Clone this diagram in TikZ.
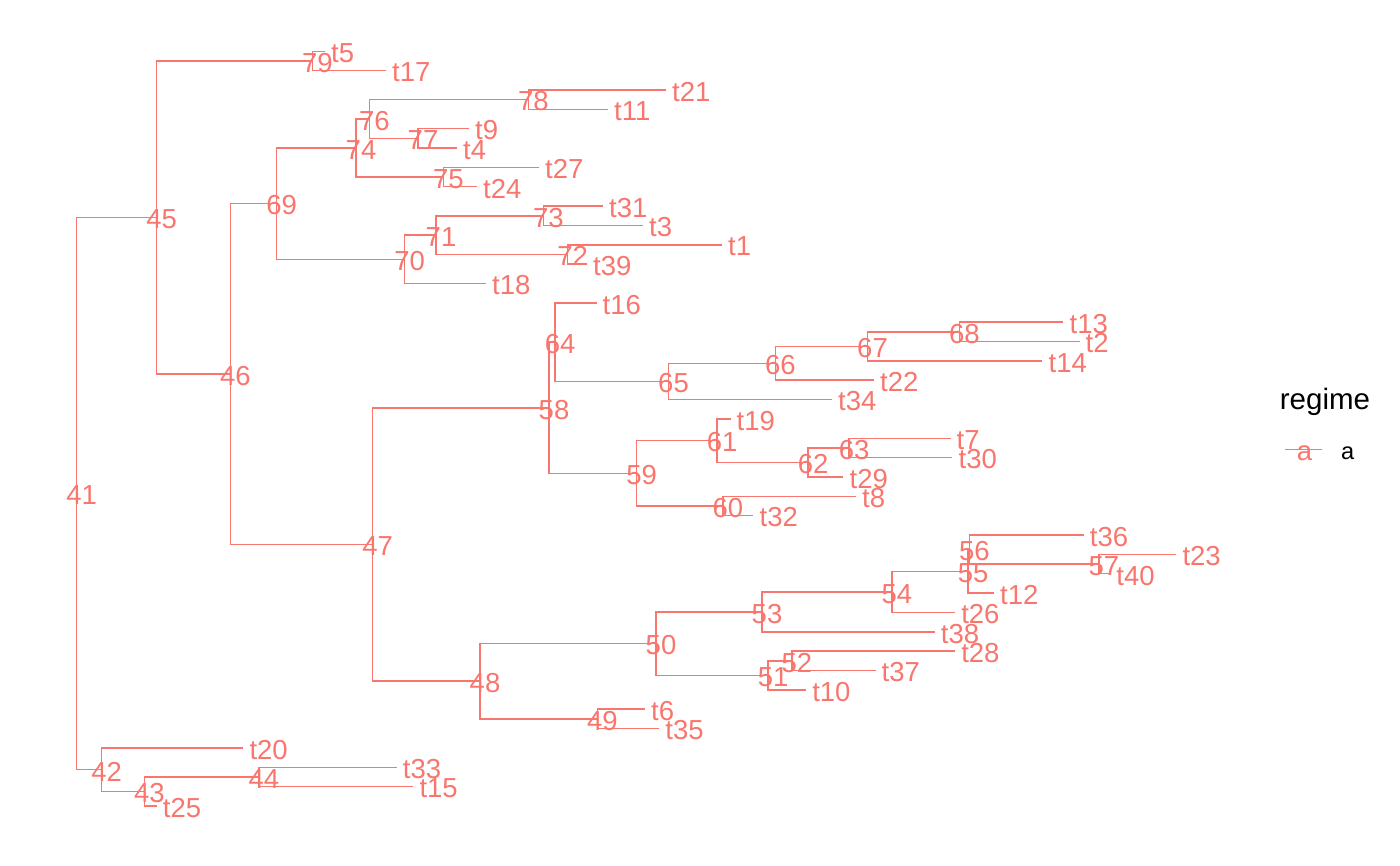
\documentclass[tikz,border=0pt]{standalone}
\usepackage{fontspec}
\setmainfont{Liberation Sans}
\usepackage{tikz}
\usetikzlibrary{positioning,calc}
\definecolor{regimeA}{HTML}{F8766D}
\newcommand\labfont{\fontsize{27.5}{33}\selectfont}
\newcommand\legtitlefont{\fontsize{29.5}{35}\selectfont}
\newcommand\legkeyfont{\fontsize{23.6}{28}\selectfont}
\tikzset{
  branch/.style={draw=regimeA, line width=1.5pt},
  tiplab/.style={anchor=west, inner sep=0pt, xshift=6pt, yshift=-1.8pt, text=regimeA, font=\labfont},
  nodelab/.style={inner sep=0pt, xshift=5pt, yshift=-1.8pt, text=regimeA, font=\labfont},
}

\begin{document}
\begin{tikzpicture}[
x=1pt,
y=-19.35pt
]
\useasboundingbox (0,-2.651) rectangle (1400,42.103);

% tips, top to bottom
\foreach \name/\x [count=\i from 0] in {t5/325, t17/386, t21/666, t11/608, t9/469,
    t4/457, t27/539, t24/477, t31/603, t3/643, t1/722, t39/587, t18/486, t16/596.5,
    t13/1063.4, t2/1079.5, t14/1042.4, t22/874, t34/831.9, t19/730.5, t7/950.5,
    t30/952.4, t29/843.4, t8/856, t32/753.4, t36/1083.7, t23/1176.3, t40/1110.2,
    t12/993.9, t26/955.1, t38/934.7, t28/955.1, t37/875.5, t10/806.1, t6/645,
    t35/659.2, t20/243.3, t33/396.7, t15/413.3, t25/156.7}
{
  \coordinate (\name) at (\x,\i);
  \node[tiplab] (l\name) at (\name) {\name};
}

% internal nodes
\foreach \k/\x/\y in {41/76.7/22.858, 42/101.7/37.125, 43/144.3/38.25, 44/259/37.5,
    45/156.7/8.5908, 46/230.3/16.6816, 47/372.7/25.4883, 48/480/32.5547,
    49/597.3/34.5, 50/656/30.6094, 51/768.2/32.25, 52/791.8/31.5, 53/762/28.9688,
    54/891.8/27.9375, 55/968.2/26.875, 56/969.4/25.75, 57/1098.8/26.5,
    58/549/18.4219, 59/636.7/21.8125, 60/722.8/23.5, 61/717.1/20.125,
    62/808.2/21.25, 63/849.1/20.5, 64/555.2/15.0313, 65/668.5/17.0625,
    66/775.3/16.125, 67/867.5/15.25, 68/959.3/14.5, 69/276.7/7.875,
    70/404.7/10.75, 71/436/9.5, 72/567.7/10.5, 73/543.3/8.5, 74/356/5,
    75/443.3/6.5, 76/369.3/3.5, 77/418/4.5, 78/528.3/2.5, 79/312.3/0.5}
{
  \coordinate (n\k) at (\x,\y);
  \node[nodelab] (l\k) at (n\k) {\k};
}

% branches
\foreach \p/\c in {n41/n45, n41/n42, n45/n79, n45/n46, n79/t5, n79/t17,
    n46/n69, n46/n47, n69/n74, n69/n70, n74/n76, n74/n75, n76/n78, n76/n77,
    n78/t21, n78/t11, n77/t9, n77/t4, n75/t27, n75/t24, n70/n71, n70/t18,
    n71/n73, n71/n72, n73/t31, n73/t3, n72/t1, n72/t39, n47/n58, n47/n48,
    n58/n64, n58/n59, n64/t16, n64/n65, n65/n66, n65/t34, n66/n67, n66/t22,
    n67/n68, n67/t14, n68/t13, n68/t2, n59/n61, n59/n60, n61/t19, n61/n62,
    n62/n63, n62/t29, n63/t7, n63/t30, n60/t8, n60/t32, n48/n50, n48/n49,
    n50/n53, n50/n51, n53/n54, n53/t38, n54/n55, n54/t26, n55/n56, n55/t12,
    n56/t36, n56/n57, n57/t23, n57/t40, n51/n52, n51/t10, n52/t28, n52/t37,
    n49/t6, n49/t35, n42/t20, n42/n43, n43/n44, n43/t25, n44/t33, n44/t15}
  \draw[branch] (\p) |- (\c);

% legend
\begin{scope}[y=-1pt, shift={(0,51.3pt)}]
\node[anchor=base west, inner sep=0pt, font=\legtitlefont] (legtitle) at (1279.7,409.5) {regime};
\coordinate (keyL) at (1285,449.3);
\coordinate (keyR) at (1321.7,449.3);
\draw[branch] (keyL) -- (keyR);
\node[inner sep=0pt, text=regimeA, font=\labfont] (keya) at (1304.5,453) {a};
\node[anchor=base west, inner sep=0pt, font=\legkeyfont] (keylab) at (1340.8,460) {a};
\end{scope}
\end{tikzpicture}
\end{document}
